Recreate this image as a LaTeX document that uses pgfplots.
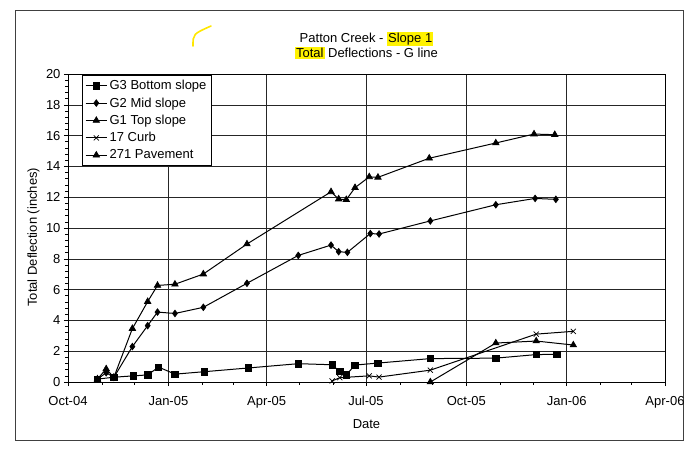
\documentclass[border=0pt]{standalone}
\usepackage{pgfplots}
\usepackage{pgfplotstable}
\pgfplotsset{compat=1.18}
\usepackage{fontspec}
\setmainfont{Liberation Sans}
\definecolor{hl}{HTML}{FFF200}
\setlength{\fboxsep}{1pt}

% x = days since 1 Oct 2004
\pgfplotstableread{
x y
27 0.19
42 0.31
60 0.40
73 0.46
83 0.97
98 0.51
125 0.67
165 0.91
211 1.19
242 1.12
249 0.68
255 0.47
263 1.10
284 1.23
332 1.52
392 1.55
429 1.78
448 1.80
}\gthree
\pgfplotstableread{
x y
27 0.19
35 0.60
42 0.30
59 2.30
73 3.66
82 4.54
98 4.45
124 4.85
164 6.41
211 8.22
241 8.89
248 8.46
256 8.42
277 9.64
285 9.61
332 10.46
392 11.51
428 11.92
447 11.86
}\gtwo
\pgfplotstableread{
x y
27 0.19
35 0.85
42 0.30
59 3.47
73 5.22
82 6.27
98 6.35
124 7.01
164 8.96
241 12.35
248 11.88
255 11.84
263 12.62
276 13.32
284 13.29
331 14.53
392 15.52
427 16.10
446 16.06
}\gone
\pgfplotstableread{
x y
242 0.07
249 0.28
276 0.40
285 0.32
332 0.77
429 3.11
463 3.29
}\curb
\pgfplotstableread{
x y
332 0.00
392 2.53
429 2.66
463 2.40
}\pave

\begin{document}
\begin{tikzpicture}
\useasboundingbox (-68pt,-69pt) rectangle (623pt,382pt);
\draw[line width=0.6pt, black!75] (-53pt,-58pt) rectangle (615pt,372pt);
\draw[hl!90!orange, line width=1.6pt, line cap=round] (125pt,336pt) .. controls (125pt,348pt) .. (143pt,356pt);
\begin{axis}[
  scale only axis, width=597pt, height=308pt,
  xmin=0, xmax=547, ymin=0, ymax=20,
  xtick={0,92,182,273,365,457,547},
  xticklabels={Oct-04,Jan-05,Apr-05,Jul-05,Oct-05,Jan-06,Apr-06},
  minor xtick={31,61,123,151,212,243,304,334,396,426,488,516},
  ytick={0,2,...,20},
  minor y tick num=4,
  grid=major,
  major grid style={black!85, line width=0.55pt},
  tick align=outside, tick pos=left,
  major tick length=4pt, minor tick length=2.5pt,
  tick style={black, line width=0.55pt},
  axis line style={black, line width=0.7pt},
  tick label style={font=\fontsize{13}{15}\selectfont},
  xticklabel style={yshift=-7pt},
  /pgf/number format/assume math mode=true,
  label style={font=\fontsize{13}{15}\selectfont},
  xlabel={Date},
  xlabel style={at={(axis description cs:0.5,0)}, anchor=center, yshift=-42pt},
  ylabel={Total Deflection (inches)},
  ylabel style={at={(axis description cs:-0.0578,0.47)}, anchor=center},
  title={Patton Creek - \colorbox{hl}{Slope 1}\\\colorbox{hl}{Total} Deflections - G line},
  title style={at={(axis description cs:0.5,1)}, anchor=south, yshift=9pt, inner sep=0pt, align=center, font=\fontsize{13}{14}\selectfont},
  legend style={at={(axis description cs:0.023,0.997)}, anchor=north west, draw=black, line width=0.55pt,
    font=\fontsize{13}{15}\selectfont, row sep=2.5pt, inner sep=3pt, fill=white},
  legend cell align=left,
  legend image code/.code={\draw[mark repeat=2,mark phase=2] plot coordinates {(0cm,0cm) (0.38cm,0cm) (0.76cm,0cm)};},
  every axis plot/.append style={black, line width=1pt, mark options={solid, line width=0.7pt}},
]
\addplot[mark=square*, mark size=3.2pt] table {\gthree};
\addlegendentry{G3 Bottom slope}
\addplot[mark=diamond*, mark size=3.3pt] table {\gtwo};
\addlegendentry{G2 Mid slope}
\addplot[mark=triangle*, mark size=3.7pt] table {\gone};
\addlegendentry{G1 Top slope}
\addplot[mark=x, mark size=3.6pt] table {\curb};
\addlegendentry{17 Curb}
\addplot[mark=triangle*, mark size=3.7pt] table {\pave};
\addlegendentry{271 Pavement}
\end{axis}
\end{tikzpicture}
\end{document}
